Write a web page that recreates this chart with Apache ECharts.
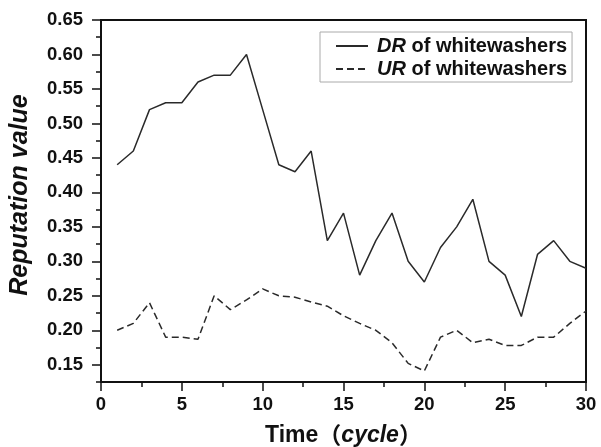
<!DOCTYPE html>
<html>
<head>
<meta charset="utf-8">
<script src="https://cdn.jsdelivr.net/npm/echarts@6/dist/echarts.min.js"></script>
<style>
html,body{margin:0;padding:0;background:#fff;}
#chart{width:601px;height:447px;}
</style>
</head>
<body>
<div id="chart"></div>
<script>
var cycles = [1,2,3,4,5,6,7,8,9,10,11,12,13,14,15,16,17,18,19,20,21,22,23,24,25,26,27,28,29,30];
var drValues = [0.44,0.46,0.52,0.53,0.53,0.56,0.57,0.57,0.60,0.52,0.44,0.43,0.46,0.33,0.37,0.28,0.33,0.37,0.30,0.27,0.32,0.35,0.39,0.30,0.28,0.22,0.31,0.33,0.30,0.29];
var urValues = [0.20,0.21,0.24,0.19,0.19,0.187,0.25,0.23,0.244,0.26,0.25,0.248,0.241,0.235,0.221,0.21,0.20,0.182,0.152,0.141,0.19,0.20,0.182,0.187,0.178,0.178,0.19,0.19,0.21,0.228];
var yMajorTicks = [0.15,0.20,0.25,0.30,0.35,0.40,0.45,0.50,0.55,0.60,0.65];
var yMinorTicks = [0.125,0.175,0.225,0.275,0.325,0.375,0.425,0.475,0.525,0.575,0.625];
var seriesNames = ['DR of whitewashers','UR of whitewashers'];

function pairs(xs, ys){ return xs.map(function(x,i){ return [x, ys[i]]; }); }

var FONT = '"Liberation Sans", Arial, sans-serif';
var chart = echarts.init(document.getElementById('chart'), null, {renderer:'canvas'});
chart.setOption({
  animation:false,
  backgroundColor:'#fff',
  grid:{left:101, top:20, right:15, bottom:65, containLabel:false, outerBoundsMode:'none',
    show:true, borderColor:'#111', borderWidth:2, backgroundColor:'transparent'},
  legend:{
    left:320, top:32, orient:'vertical',
    padding:[4,5,3,15], itemGap:3,
    itemWidth:32, itemHeight:14,
    borderColor:'#aaa', borderWidth:1,
    itemStyle:{opacity:0},
    data:seriesNames,
    formatter:function(n){ var p=n.split(' '); return '{i|'+p[0]+'} '+p.slice(1).join(' '); },
    textStyle:{fontFamily:FONT, fontSize:20, fontWeight:'bold', color:'#111', padding:[0,0,0,4],
      rich:{i:{fontFamily:FONT, fontSize:20, fontWeight:'bold', fontStyle:'italic', color:'#111'}}}
  },
  xAxis:{
    type:'value', min:0, max:30, interval:5,
    name:'Time{c|（}{i|cycle}{c|）}', nameLocation:'middle', nameGap:42,
    nameTextStyle:{fontFamily:FONT, fontSize:23, fontWeight:'bold', color:'#111',
      rich:{i:{fontFamily:FONT, fontSize:23, fontWeight:'bold', fontStyle:'italic', color:'#111'},
            c:{fontFamily:'"Noto Sans CJK SC", sans-serif', fontSize:23, fontWeight:'bold', color:'#111'}}},
    axisLine:{show:true, onZero:false, lineStyle:{color:'#111', width:2}},
    axisTick:{show:true, inside:false, length:9, lineStyle:{color:'#111', width:1.5}},
    minorTick:{show:true, splitNumber:2, length:5, lineStyle:{color:'#111', width:1.5}},
    axisLabel:{margin:13, fontFamily:FONT, fontSize:18.5, fontWeight:'bold', color:'#111'},
    splitLine:{show:false}
  },
  yAxis:[{
    type:'value', min:0.125, max:0.65,
    name:'Reputation value', nameLocation:'middle', nameGap:68,
    nameTextStyle:{fontFamily:FONT, fontSize:25, fontWeight:'bold', fontStyle:'italic', color:'#111', padding:[0,0,0,12]},
    axisLine:{show:true, onZero:false, lineStyle:{color:'#111', width:2}},
    axisTick:{show:true, inside:false, length:9, customValues:yMajorTicks, lineStyle:{color:'#111', width:1.5}},
    axisLabel:{margin:18, customValues:yMajorTicks, fontFamily:FONT, fontSize:18.5, fontWeight:'bold', color:'#111',
      formatter:function(v){ return v.toFixed(2); }},
    splitLine:{show:false}
  },{
    type:'value', min:0.125, max:0.65, position:'left',
    axisLine:{show:false},
    axisTick:{show:true, inside:false, length:5, customValues:yMinorTicks, lineStyle:{color:'#111', width:1.5}},
    axisLabel:{show:false},
    splitLine:{show:false}
  }],
  series:[{
    name:seriesNames[0], type:'line', symbol:'none', yAxisIndex:0,
    data:pairs(cycles, drValues),
    lineStyle:{color:'#2a2a2a', width:1.5, type:'solid'},
    itemStyle:{color:'#2a2a2a'}
  },{
    name:seriesNames[1], type:'line', symbol:'none', yAxisIndex:0,
    data:pairs(cycles, urValues),
    lineStyle:{color:'#2a2a2a', width:1.5, type:[7,4]},
    itemStyle:{color:'#2a2a2a'}
  }]
});
</script>
</body>
</html>
